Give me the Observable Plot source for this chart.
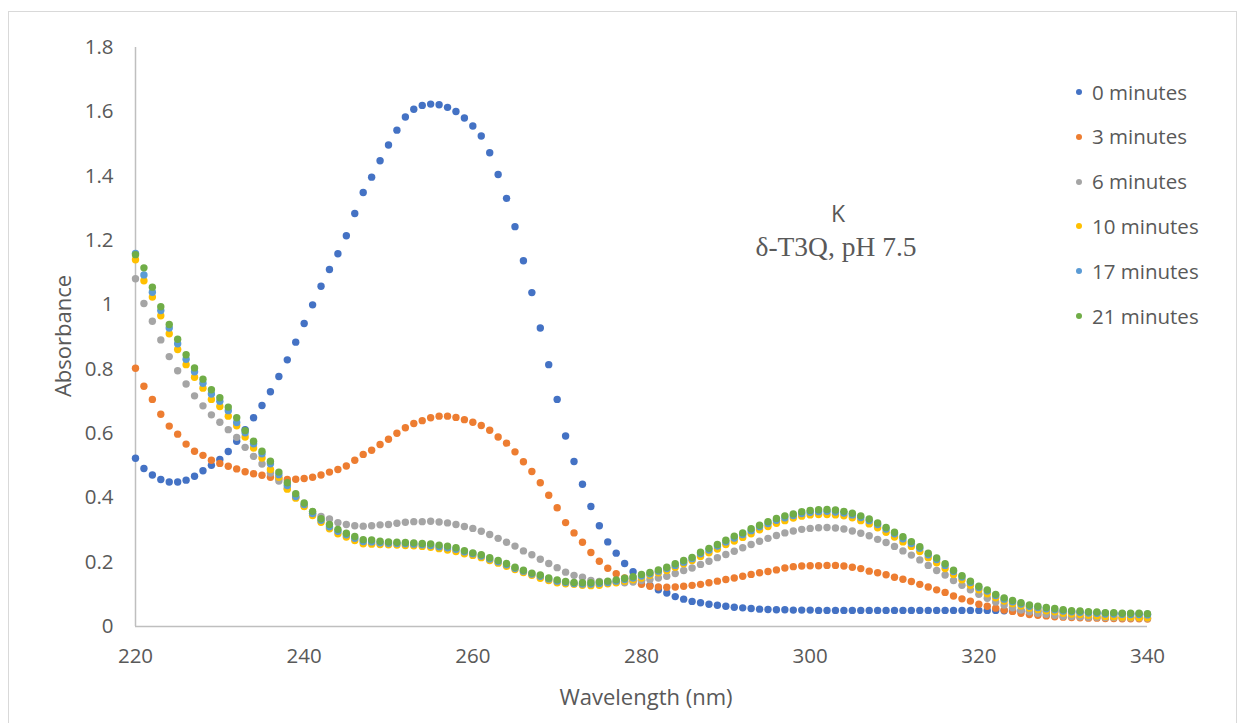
<!DOCTYPE html>
<html>
<head>
<meta charset="utf-8">
<script src="https://cdn.jsdelivr.net/npm/d3@7"></script>
<script src="https://cdn.jsdelivr.net/npm/@observablehq/plot@0.6"></script>
<style>
  html, body { margin: 0; padding: 0; background: #fff; }
  #wrap { position: relative; width: 1246px; height: 723px; overflow: hidden; font-family: "Open Sans", sans-serif; color: #595959; }
  #border { position: absolute; left: 8px; top: 11px; width: 1229px; height: 720px; border: 1px solid #d9d9d9; box-sizing: border-box; }
  #chart { position: absolute; left: 0; top: 0; }
  .ov { position: absolute; white-space: nowrap; }
  .leg { position: absolute; left: 1076px; font-size: 20.5px; line-height: 1; }
  .leg span.m { display: inline-block; width: 6px; height: 6px; border-radius: 50%; margin-right: 10px; vertical-align: middle; position: relative; top: -2px; }
</style>
</head>
<body>
<div id="wrap">
  <div id="border"></div>
  <div id="chart"></div>
  <div class="ov" id="ytitle" style="left:62px; top:336px; font-size:22px; transform: translate(-50%,-50%) rotate(-90deg);">Absorbance</div>
  <div class="ov" id="xtitle" style="left:646px; top:696px; font-size:22px; transform: translate(-50%,-50%);">Wavelength (nm)</div>
  <div class="ov" style="left:838px; top:213px; font-size:23px; transform: translate(-50%,-50%);">K</div>
  <div class="ov" style="left:836px; top:247px; font-size:27.5px; font-family:'Liberation Serif', serif; transform: translate(-50%,-50%);">δ-T3Q, pH 7.5</div>
  <div id="legend"></div>
</div>
<script>
const wavelengths = d3.range(220, 341);
const seriesNames = ["0 minutes", "3 minutes", "6 minutes", "10 minutes", "17 minutes", "21 minutes"];
const seriesColors = ["#4472C4", "#ED7D31", "#A5A5A5", "#FFC000", "#5B9BD5", "#70AD47"];
const xTicks = [220, 240, 260, 280, 300, 320, 340];
const yTicks = [0, 0.2, 0.4, 0.6, 0.8, 1, 1.2, 1.4, 1.6, 1.8];

const abs0 = [
0.523,0.491,0.471,0.457,0.449,0.449,0.455,0.467,0.484,0.501,
0.519,0.544,0.576,0.612,0.649,0.687,0.730,0.777,0.829,0.884,
0.942,1.000,1.058,1.110,1.159,1.215,1.284,1.349,1.397,1.448,
1.497,1.543,1.584,1.608,1.620,1.624,1.622,1.614,1.601,1.581,
1.556,1.525,1.473,1.405,1.331,1.243,1.137,1.038,0.928,0.814,
0.706,0.592,0.513,0.442,0.373,0.313,0.263,0.228,0.196,0.170,
0.143,0.128,0.114,0.104,0.093,0.085,0.078,0.074,0.069,0.066,
0.063,0.060,0.058,0.056,0.054,0.053,0.052,0.052,0.051,0.051,
0.051,0.050,0.050,0.050,0.050,0.050,0.050,0.050,0.050,0.050,
0.050,0.050,0.050,0.050,0.050,0.050,0.050,0.050,0.050,0.050,
0.050,0.050,0.050,0.049,0.049,0.048,0.048,0.047,0.047,0.046,
0.046,0.045,0.044,0.043,0.042,0.041,0.040,0.040,0.039,0.039,
0.038];
const abs3 = [
0.803,0.747,0.706,0.660,0.623,0.598,0.567,0.545,0.532,0.517,
0.507,0.498,0.490,0.481,0.475,0.470,0.464,0.459,0.457,0.458,
0.460,0.464,0.471,0.480,0.488,0.499,0.517,0.535,0.548,0.566,
0.582,0.601,0.618,0.631,0.640,0.649,0.654,0.654,0.650,0.643,
0.635,0.625,0.610,0.589,0.570,0.543,0.512,0.482,0.447,0.408,
0.369,0.323,0.291,0.262,0.230,0.203,0.181,0.164,0.151,0.143,
0.131,0.125,0.123,0.122,0.123,0.125,0.128,0.131,0.136,0.141,
0.146,0.151,0.156,0.162,0.167,0.171,0.176,0.182,0.186,0.188,
0.189,0.189,0.190,0.190,0.188,0.184,0.180,0.172,0.167,0.161,
0.153,0.147,0.140,0.131,0.123,0.114,0.106,0.095,0.086,0.079,
0.069,0.063,0.057,0.051,0.047,0.041,0.037,0.035,0.033,0.030,
0.029,0.028,0.027,0.026,0.026,0.025,0.025,0.024,0.024,0.024,
0.023];
const abs6 = [
1.081,1.004,0.949,0.891,0.839,0.795,0.754,0.717,0.686,0.658,
0.635,0.612,0.588,0.557,0.529,0.505,0.477,0.452,0.430,0.402,
0.375,0.352,0.342,0.334,0.323,0.317,0.313,0.312,0.313,0.316,
0.317,0.321,0.324,0.326,0.326,0.327,0.325,0.322,0.317,0.311,
0.305,0.296,0.286,0.274,0.262,0.250,0.235,0.223,0.209,0.196,
0.183,0.169,0.159,0.153,0.143,0.140,0.138,0.138,0.136,0.138,
0.143,0.146,0.151,0.156,0.165,0.174,0.182,0.193,0.203,0.214,
0.224,0.234,0.245,0.255,0.265,0.274,0.283,0.291,0.297,0.302,
0.305,0.307,0.308,0.306,0.303,0.297,0.290,0.282,0.271,0.261,
0.249,0.235,0.222,0.207,0.190,0.174,0.160,0.143,0.128,0.114,
0.100,0.088,0.076,0.067,0.058,0.051,0.046,0.041,0.038,0.035,
0.032,0.031,0.030,0.029,0.029,0.028,0.028,0.027,0.027,0.027,
0.026];
const abs10 = [
1.140,1.075,1.024,0.966,0.910,0.861,0.814,0.775,0.741,0.706,
0.684,0.654,0.624,0.589,0.555,0.524,0.488,0.464,0.427,0.399,
0.373,0.345,0.324,0.304,0.288,0.278,0.267,0.257,0.256,0.255,
0.254,0.253,0.252,0.251,0.249,0.246,0.242,0.238,0.233,0.226,
0.221,0.214,0.205,0.197,0.187,0.177,0.168,0.159,0.150,0.143,
0.136,0.133,0.131,0.128,0.127,0.128,0.133,0.136,0.141,0.145,
0.151,0.159,0.167,0.174,0.184,0.195,0.205,0.218,0.229,0.241,
0.255,0.266,0.277,0.288,0.301,0.311,0.321,0.329,0.337,0.343,
0.347,0.348,0.348,0.347,0.344,0.338,0.329,0.319,0.307,0.293,
0.278,0.263,0.249,0.233,0.214,0.198,0.180,0.162,0.145,0.128,
0.114,0.102,0.089,0.079,0.071,0.064,0.057,0.053,0.049,0.046,
0.041,0.039,0.037,0.035,0.033,0.031,0.030,0.029,0.029,0.028,
0.027];
const abs17 = [
1.160,1.093,1.039,0.982,0.928,0.879,0.831,0.792,0.756,0.723,
0.700,0.671,0.634,0.602,0.568,0.537,0.506,0.472,0.438,0.404,
0.379,0.351,0.330,0.310,0.296,0.285,0.274,0.264,0.263,0.260,
0.259,0.258,0.257,0.256,0.254,0.252,0.248,0.245,0.240,0.232,
0.226,0.219,0.210,0.201,0.192,0.181,0.172,0.163,0.156,0.148,
0.141,0.137,0.134,0.132,0.132,0.134,0.137,0.141,0.146,0.151,
0.157,0.164,0.172,0.180,0.190,0.200,0.211,0.226,0.238,0.250,
0.263,0.275,0.286,0.298,0.310,0.320,0.330,0.338,0.345,0.351,
0.355,0.357,0.358,0.356,0.353,0.347,0.339,0.329,0.317,0.303,
0.288,0.273,0.258,0.243,0.223,0.208,0.190,0.171,0.154,0.137,
0.121,0.110,0.096,0.085,0.077,0.070,0.063,0.059,0.055,0.052,
0.048,0.046,0.044,0.042,0.041,0.039,0.039,0.038,0.037,0.037,
0.036];
const abs21 = [
1.156,1.115,1.055,0.994,0.939,0.893,0.845,0.804,0.769,0.736,
0.711,0.682,0.649,0.609,0.576,0.545,0.514,0.480,0.447,0.413,
0.384,0.358,0.335,0.317,0.302,0.290,0.280,0.270,0.269,0.265,
0.263,0.262,0.261,0.260,0.258,0.257,0.253,0.250,0.245,0.236,
0.229,0.223,0.214,0.205,0.196,0.184,0.175,0.166,0.160,0.151,
0.145,0.140,0.137,0.136,0.136,0.138,0.141,0.145,0.150,0.155,
0.162,0.168,0.176,0.184,0.195,0.205,0.215,0.231,0.243,0.255,
0.268,0.281,0.291,0.304,0.315,0.326,0.336,0.344,0.350,0.357,
0.361,0.363,0.364,0.362,0.358,0.352,0.344,0.334,0.322,0.308,
0.293,0.279,0.264,0.248,0.228,0.213,0.195,0.175,0.158,0.141,
0.125,0.114,0.100,0.089,0.081,0.074,0.067,0.063,0.059,0.056,
0.052,0.049,0.048,0.046,0.045,0.043,0.043,0.041,0.041,0.041,
0.040];

const seriesValues = [abs0, abs3, abs6, abs10, abs17, abs21];
const data = seriesNames.flatMap((name, i) =>
  wavelengths.map((w, j) => ({ name, w, a: seriesValues[i][j] })));

const chart = Plot.plot({
  width: 1246,
  height: 723,
  marginLeft: 135,
  marginRight: 99,
  marginTop: 47,
  marginBottom: 97,
  style: { fontFamily: "Open Sans, sans-serif", fontSize: "20.5px", color: "#595959", background: "transparent", overflow: "visible" },
  x: { domain: [220, 340], ticks: xTicks, tickSize: 0, tickPadding: 22, label: null },
  y: { domain: [0, 1.8], ticks: yTicks, tickSize: 0, tickPadding: 22, label: null, tickFormat: d => String(Math.round(d * 10) / 10) },
  color: { domain: seriesNames, range: seriesColors },
  marks: [
    Plot.ruleY([0], { stroke: "#bfbfbf", strokeWidth: 1.5 }),
    Plot.ruleX([220], { y1: 0, y2: 1.8, stroke: "#bfbfbf", strokeWidth: 1.5 }),
    Plot.dot(data, { x: "w", y: "a", fill: "name", r: 3.7, stroke: "none" })
  ]
});
document.getElementById("chart").appendChild(chart);

const legend = document.getElementById("legend");
seriesNames.forEach((name, i) => {
  const row = document.createElement("div");
  row.className = "leg";
  row.style.top = (92.5 + i * 44.8 - 11) + "px";
  const m = document.createElement("span");
  m.className = "m";
  m.style.background = seriesColors[i];
  row.appendChild(m);
  row.appendChild(document.createTextNode(name));
  legend.appendChild(row);
});
</script>
</body>
</html>
